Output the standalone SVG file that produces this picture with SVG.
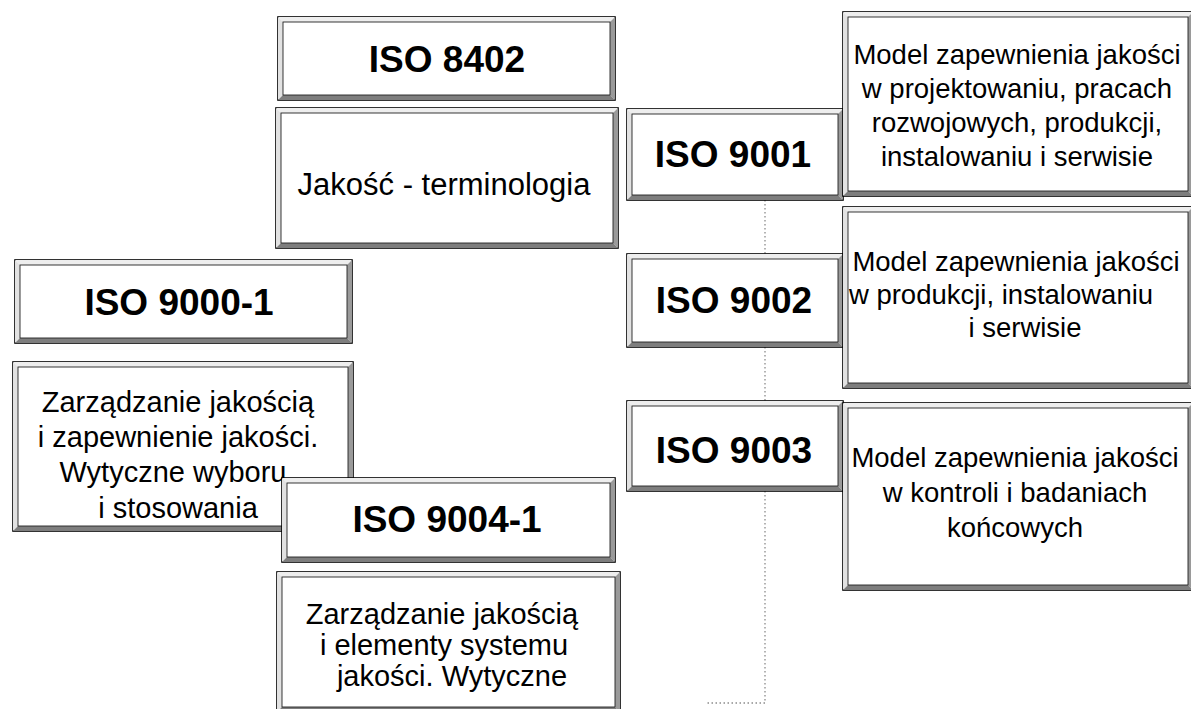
<svg xmlns="http://www.w3.org/2000/svg" width="1191" height="709" viewBox="0 0 1191 709">
<style>
.bg{fill:#fff}
.outer{fill:#fff;stroke:#000;stroke-width:1.6}
.bt{fill:#eeeeee;stroke:none}
.bl{fill:#e2e2e2;stroke:none}
.br{fill:#9a9a9a;stroke:none}
.bb{fill:#7e7e7e;stroke:none}
.inner{fill:none;stroke:#222;stroke-width:0.9}
.lbl{font-family:"Liberation Sans",Arial,sans-serif;font-weight:bold;font-size:37px;fill:#000;text-anchor:middle}
.dl{font-family:"Liberation Sans",Arial,sans-serif;font-size:29px;fill:#000;text-anchor:middle}
.dr{font-family:"Liberation Sans",Arial,sans-serif;font-size:27.5px;fill:#000;text-anchor:middle}
.dt{font-family:"Liberation Sans",Arial,sans-serif;font-size:31px;fill:#000;text-anchor:middle}
.conn{fill:none;stroke:#8c8c8c;stroke-width:1.3;stroke-dasharray:1.5 2.5}
</style>
<rect class="bg" x="0" y="0" width="1191" height="709"/>

<g id="connectors">
  <path class="conn" d="M765,200 V254 M765,347 V401 M765,491 V703 H705"/>
</g>

<g id="iso8402" transform="translate(278,17)">
  <rect class="outer" x="0" y="0" width="337" height="83"/>
  <polygon class="bt" points="0,0 337,0 332,5 5,5"/>
  <polygon class="bl" points="0,0 5,5 5,78 0,83"/>
  <polygon class="br" points="337,0 337,83 332,78 332,5"/>
  <polygon class="bb" points="0,83 5,78 332,78 337,83"/>
  <rect class="inner" x="5" y="5" width="327" height="73"/>
  <text class="lbl" x="169" y="55">ISO 8402</text>
</g>

<g id="iso8402-desc" transform="translate(276,108)">
  <rect class="outer" x="0" y="0" width="342" height="140"/>
  <polygon class="bt" points="0,0 342,0 337,5 5,5"/>
  <polygon class="bl" points="0,0 5,5 5,135 0,140"/>
  <polygon class="br" points="342,0 342,140 337,135 337,5"/>
  <polygon class="bb" points="0,140 5,135 337,135 342,140"/>
  <rect class="inner" x="5" y="5" width="332" height="130"/>
  <text class="dt" x="168" y="87">Jakość - terminologia</text>
</g>

<g id="iso9001" transform="translate(627,109)">
  <rect class="outer" x="0" y="0" width="216" height="91"/>
  <polygon class="bt" points="0,0 216,0 211,5 5,5"/>
  <polygon class="bl" points="0,0 5,5 5,86 0,91"/>
  <polygon class="br" points="216,0 216,91 211,86 211,5"/>
  <polygon class="bb" points="0,91 5,86 211,86 216,91"/>
  <rect class="inner" x="5" y="5" width="206" height="81"/>
  <text class="lbl" x="106" y="58">ISO 9001</text>
</g>

<g id="iso9001-desc" transform="translate(843,12)">
  <rect class="outer" x="0" y="0" width="350" height="184"/>
  <polygon class="bt" points="0,0 350,0 345,5 5,5"/>
  <polygon class="bl" points="0,0 5,5 5,179 0,184"/>
  <polygon class="br" points="350,0 350,184 345,179 345,5"/>
  <polygon class="bb" points="0,184 5,179 345,179 350,184"/>
  <rect class="inner" x="5" y="5" width="340" height="174"/>
  <text class="dr" x="174" y="52">Model zapewnienia jakości</text>
  <text class="dr" x="174" y="86">w projektowaniu, pracach</text>
  <text class="dr" x="174" y="120">rozwojowych, produkcji,</text>
  <text class="dr" x="174" y="154">instalowaniu i serwisie</text>
</g>

<g id="iso9002" transform="translate(627,254)">
  <rect class="outer" x="0" y="0" width="216" height="93"/>
  <polygon class="bt" points="0,0 216,0 211,5 5,5"/>
  <polygon class="bl" points="0,0 5,5 5,88 0,93"/>
  <polygon class="br" points="216,0 216,93 211,88 211,5"/>
  <polygon class="bb" points="0,93 5,88 211,88 216,93"/>
  <rect class="inner" x="5" y="5" width="206" height="83"/>
  <text class="lbl" x="107" y="59">ISO 9002</text>
</g>

<g id="iso9002-desc" transform="translate(843,207)">
  <rect class="outer" x="0" y="0" width="350" height="181"/>
  <polygon class="bt" points="0,0 350,0 345,5 5,5"/>
  <polygon class="bl" points="0,0 5,5 5,176 0,181"/>
  <polygon class="br" points="350,0 350,181 345,176 345,5"/>
  <polygon class="bb" points="0,181 5,176 345,176 350,181"/>
  <rect class="inner" x="5" y="5" width="340" height="171"/>
  <text class="dr" x="173" y="64">Model zapewnienia jakości</text>
  <text class="dr" x="158" y="97">w produkcji, instalowaniu</text>
  <text class="dr" x="182" y="130">i serwisie</text>
</g>

<g id="iso9003" transform="translate(627,401)">
  <rect class="outer" x="0" y="0" width="216" height="90"/>
  <polygon class="bt" points="0,0 216,0 211,5 5,5"/>
  <polygon class="bl" points="0,0 5,5 5,85 0,90"/>
  <polygon class="br" points="216,0 216,90 211,85 211,5"/>
  <polygon class="bb" points="0,90 5,85 211,85 216,90"/>
  <rect class="inner" x="5" y="5" width="206" height="80"/>
  <text class="lbl" x="107" y="62">ISO 9003</text>
</g>

<g id="iso9003-desc" transform="translate(843,403)">
  <rect class="outer" x="0" y="0" width="350" height="187"/>
  <polygon class="bt" points="0,0 350,0 345,5 5,5"/>
  <polygon class="bl" points="0,0 5,5 5,182 0,187"/>
  <polygon class="br" points="350,0 350,187 345,182 345,5"/>
  <polygon class="bb" points="0,187 5,182 345,182 350,187"/>
  <rect class="inner" x="5" y="5" width="340" height="177"/>
  <text class="dr" x="172" y="64">Model zapewnienia jakości</text>
  <text class="dr" x="172" y="99">w kontroli i badaniach</text>
  <text class="dr" x="172" y="134">końcowych</text>
</g>

<g id="iso9000-1" transform="translate(15,260)">
  <rect class="outer" x="0" y="0" width="337" height="83"/>
  <polygon class="bt" points="0,0 337,0 332,5 5,5"/>
  <polygon class="bl" points="0,0 5,5 5,78 0,83"/>
  <polygon class="br" points="337,0 337,83 332,78 332,5"/>
  <polygon class="bb" points="0,83 5,78 332,78 337,83"/>
  <rect class="inner" x="5" y="5" width="327" height="73"/>
  <text class="lbl" x="164" y="55">ISO 9000-1</text>
</g>

<g id="iso9000-1-desc" transform="translate(13,362)">
  <rect class="outer" x="0" y="0" width="340" height="169"/>
  <polygon class="bt" points="0,0 340,0 335,5 5,5"/>
  <polygon class="bl" points="0,0 5,5 5,164 0,169"/>
  <polygon class="br" points="340,0 340,169 335,164 335,5"/>
  <polygon class="bb" points="0,169 5,164 335,164 340,169"/>
  <rect class="inner" x="5" y="5" width="330" height="159"/>
  <text class="dl" x="165" y="50">Zarządzanie jakością</text>
  <text class="dl" x="165" y="85">i zapewnienie jakości.</text>
  <text class="dl" x="160" y="120">Wytyczne wyboru</text>
  <text class="dl" x="165" y="156">i stosowania</text>
</g>

<g id="iso9004-1" transform="translate(282,478)">
  <rect class="outer" x="0" y="0" width="333" height="84"/>
  <polygon class="bt" points="0,0 333,0 328,5 5,5"/>
  <polygon class="bl" points="0,0 5,5 5,79 0,84"/>
  <polygon class="br" points="333,0 333,84 328,79 328,5"/>
  <polygon class="bb" points="0,84 5,79 328,79 333,84"/>
  <rect class="inner" x="5" y="5" width="323" height="74"/>
  <text class="lbl" x="165" y="54">ISO 9004-1</text>
</g>

<g id="iso9004-1-desc" transform="translate(277,572)">
  <rect class="outer" x="0" y="0" width="343" height="140"/>
  <polygon class="bt" points="0,0 343,0 338,5 5,5"/>
  <polygon class="bl" points="0,0 5,5 5,135 0,140"/>
  <polygon class="br" points="343,0 343,140 338,135 338,5"/>
  <polygon class="bb" points="0,140 5,135 338,135 343,140"/>
  <rect class="inner" x="5" y="5" width="333" height="130"/>
  <text class="dl" x="165" y="52">Zarządzanie jakością</text>
  <text class="dl" x="167" y="83">i elementy systemu</text>
  <text class="dl" x="175" y="114">jakości. Wytyczne</text>
</g>
</svg>
